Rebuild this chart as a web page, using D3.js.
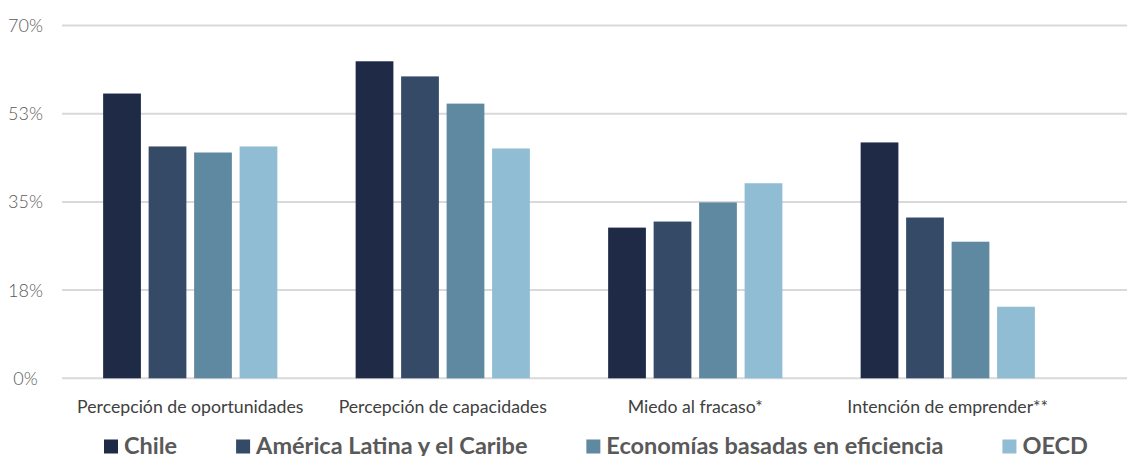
<!DOCTYPE html>
<html>
<head>
<meta charset="utf-8">
<script src="https://cdn.jsdelivr.net/npm/d3@7"></script>
<style>
  html, body { margin: 0; padding: 0; background: #fff; }
  svg { display: block; }
</style>
</head>
<body>
<svg id="chart" width="1127" height="456"></svg>
<script>
const categories = ["Percepción de oportunidades", "Percepción de capacidades", "Miedo al fracaso*", "Intención de emprender**"];
const seriesNames = ["Chile", "América Latina y el Caribe", "Economías basadas en eficiencia", "OECD"];
const chileValues = [56.5, 62.9, 29.9, 46.8];
const alcValues = [46.0, 59.9, 31.1, 31.9];
const eficienciaValues = [44.8, 54.5, 34.9, 27.1];
const oecdValues = [46.0, 45.6, 38.7, 14.2];
const tickValues = [0, 17.5, 35, 52.5, 70];
const tickLabels = ["0%", "18%", "35%", "53%", "70%"];
const colors = ["#1f2a47", "#344a66", "#5f88a1", "#90bcd4"];

const series = [chileValues, alcValues, eficienciaValues, oecdValues];
const svg = d3.select("#chart");
const W = 1127;

const y = d3.scaleLinear().domain([0, 70]).range([378.3, 25.5]);
const x0 = d3.scaleBand().domain(categories).range([64, 1074]).paddingInner(0.31).paddingOuter(0.155);
const x1 = d3.scaleBand().domain(seriesNames).range([0, x0.bandwidth()]).paddingInner(0.17).paddingOuter(0);

// gridlines
svg.append("g").selectAll("line").data(tickValues).join("line")
  .attr("x1", 62).attr("x2", W)
  .attr("y1", d => y(d)).attr("y2", d => y(d))
  .attr("stroke", "#d9d9d9").attr("stroke-width", 2);

// y tick labels
svg.append("g").selectAll("text").data(tickValues).join("text")
  .attr("x", 25.5).attr("y", d => y(d)).attr("dy", "0.36em")
  .attr("text-anchor", "middle")
  .attr("font-family", "Lato").attr("font-weight", 300).attr("font-size", 18)
  .attr("fill", "#595959")
  .text((d, i) => tickLabels[i]);

// bars
const groups = svg.append("g").selectAll("g").data(categories).join("g")
  .attr("transform", d => `translate(${x0(d)},0)`);
groups.selectAll("rect")
  .data((c, ci) => seriesNames.map((s, si) => ({ s, si, v: series[si][ci] })))
  .join("rect")
  .attr("x", d => x1(d.s))
  .attr("width", x1.bandwidth())
  .attr("y", d => y(d.v))
  .attr("height", d => y(0) - y(d.v))
  .attr("fill", d => colors[d.si]);

// category labels
svg.append("g").selectAll("text").data(categories).join("text")
  .attr("x", d => x0(d) + x0.bandwidth() / 2)
  .attr("y", 412.7)
  .attr("text-anchor", "middle")
  .attr("font-family", "Lato").attr("font-weight", 400).attr("font-size", 17.7)
  .attr("fill", "#404040")
  .text(d => d);

// legend
const legend = svg.append("g");
const items = legend.selectAll("g").data(seriesNames).join("g");
const sq = 14, gapSqText = 6;
items.append("rect").attr("width", sq).attr("height", sq).attr("y", 439.5)
  .attr("fill", (d, i) => colors[i]);
items.append("text").attr("x", sq + gapSqText).attr("y", 453.5)
  .attr("font-family", "Lato").attr("font-weight", 700).attr("font-size", 23.5)
  .attr("fill", "#595959")
  .text(d => d);
const widths = [];
items.each(function () { widths.push(sq + gapSqText + d3.select(this).select("text").node().getComputedTextLength()); });
const legStart = 104, legEnd = 1088;
const gap = (legEnd - legStart - d3.sum(widths)) / (widths.length - 1);
let cx = legStart;
items.each(function (d, i) { d3.select(this).attr("transform", `translate(${cx},0)`); cx += widths[i] + gap; });
</script>
</body>
</html>
